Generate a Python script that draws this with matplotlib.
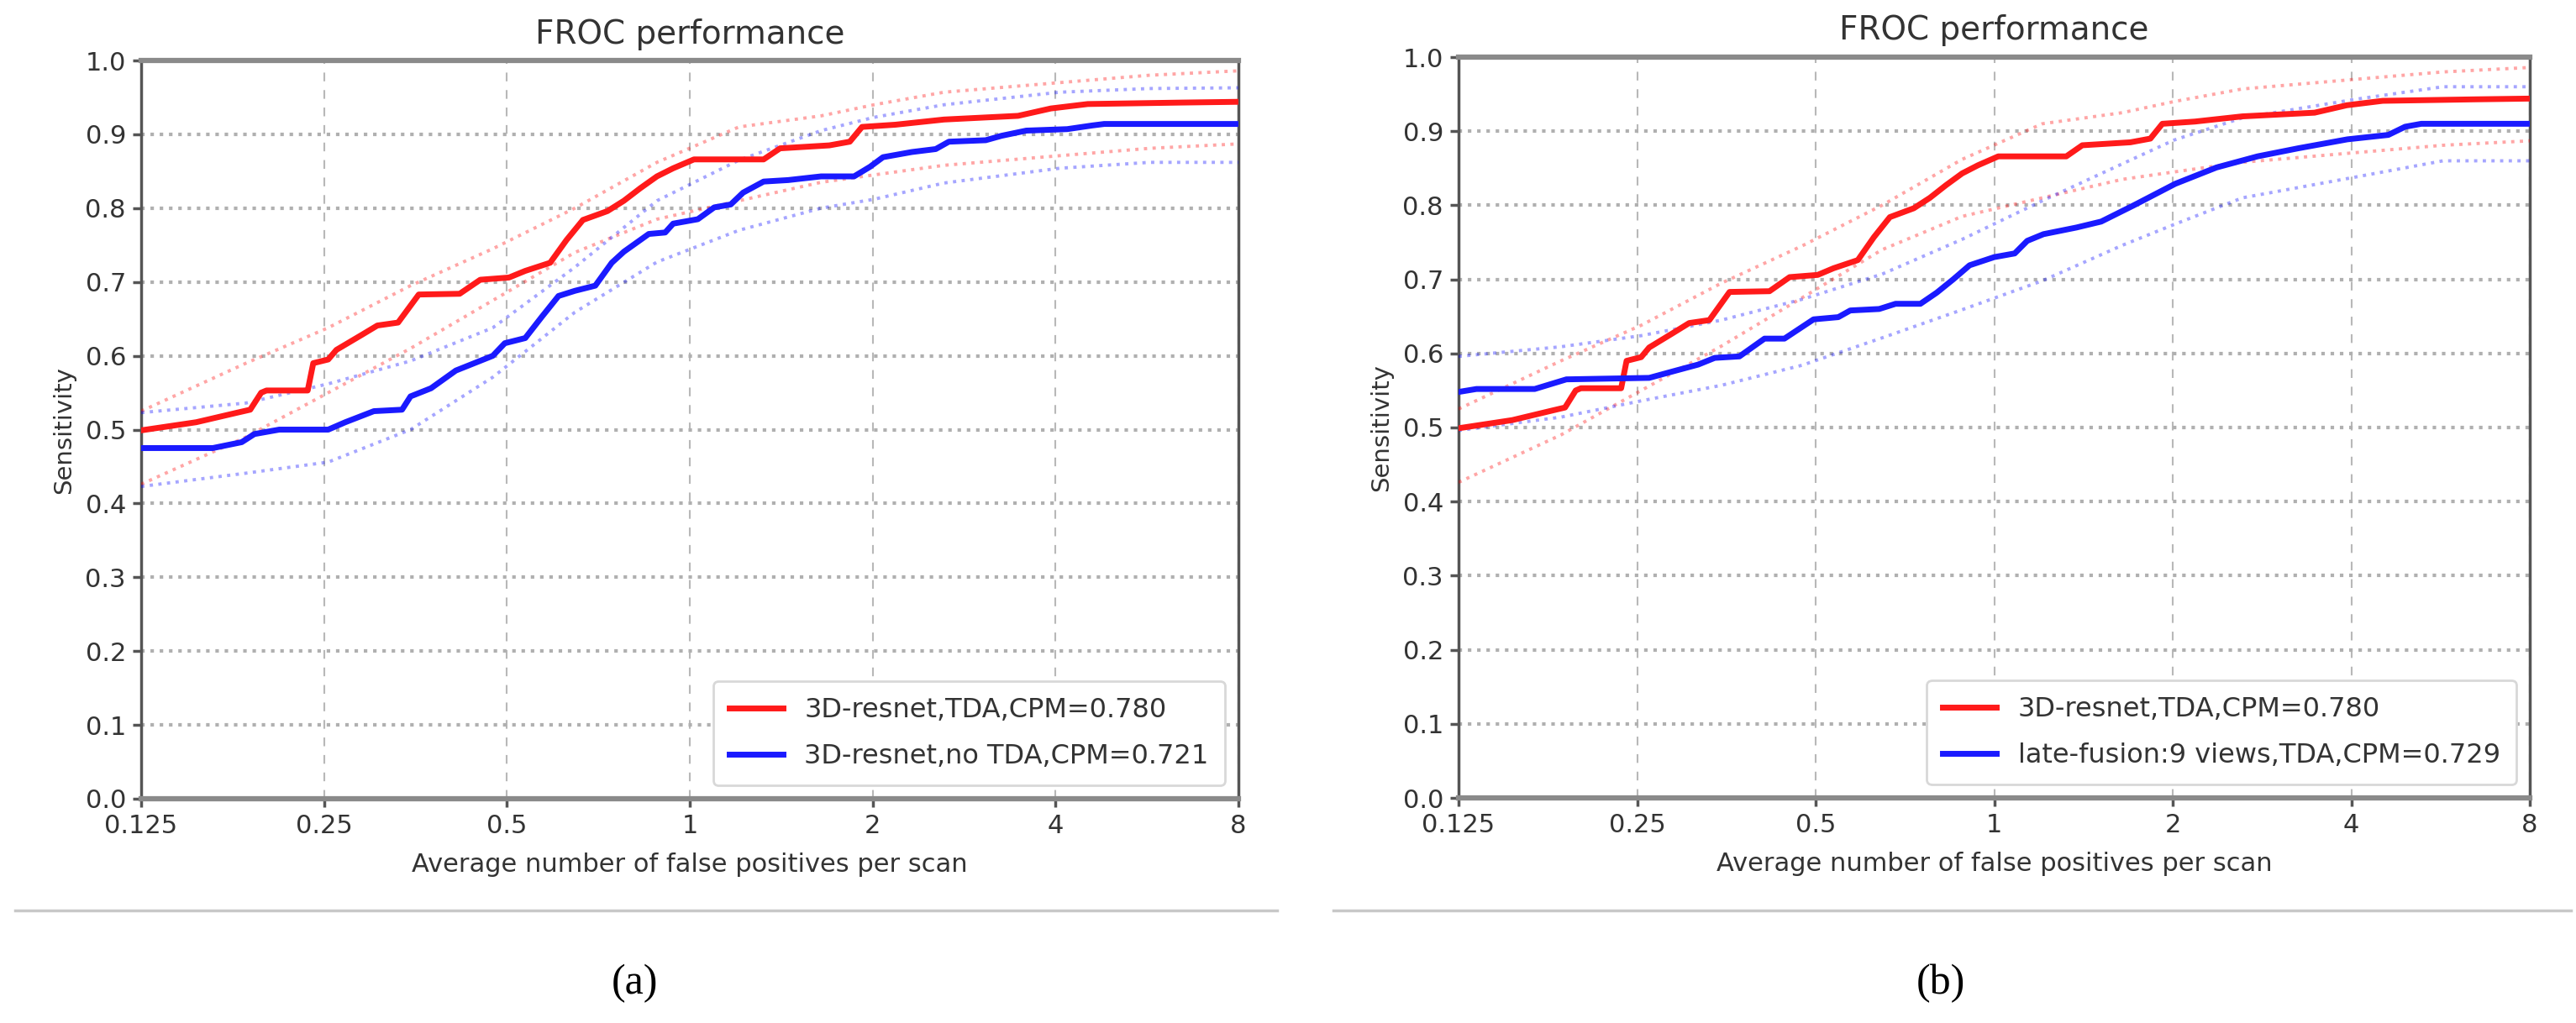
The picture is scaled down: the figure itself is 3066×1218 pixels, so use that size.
import matplotlib
matplotlib.use('Agg')
import matplotlib.pyplot as plt
from matplotlib.lines import Line2D
from matplotlib.ticker import NullLocator

# --- data ---
# 3D-resnet, TDA (same curve in both panels)
red_fps = [0.125, 0.154, 0.180, 0.189, 0.197, 0.201, 0.235, 0.240, 0.254, 0.262,
           0.288, 0.306, 0.331, 0.358, 0.418, 0.452, 0.504, 0.536, 0.589, 0.627,
           0.667, 0.732, 0.779, 0.829, 0.883, 0.939, 1.016, 1.323, 1.408, 1.697,
           1.834, 1.921, 2.18, 2.62, 3.47, 3.93, 4.52, 6.47, 8.0]
red_sens = [0.499, 0.510, 0.523, 0.527, 0.550, 0.553, 0.553, 0.590, 0.595, 0.608,
            0.628, 0.641, 0.645, 0.683, 0.684, 0.703, 0.706, 0.715, 0.726, 0.757,
            0.784, 0.796, 0.810, 0.827, 0.843, 0.854, 0.866, 0.866, 0.881, 0.885,
            0.890, 0.910, 0.913, 0.920, 0.925, 0.935, 0.941, 0.943, 0.944]

# 3D-resnet, no TDA
noTDA_fps = [0.125, 0.164, 0.183, 0.192, 0.211, 0.254, 0.271, 0.302, 0.336, 0.347,
             0.375, 0.412, 0.474, 0.496, 0.536, 0.571, 0.608, 0.647, 0.699, 0.744,
             0.779, 0.856, 0.911, 0.939, 1.031, 1.097, 1.168, 1.224, 1.323, 1.452,
             1.645, 1.864, 1.98, 2.08, 2.32, 2.54, 2.67, 3.07, 3.26, 3.58,
             4.18, 4.60, 4.81, 8.0]
noTDA_sens = [0.475, 0.475, 0.483, 0.494, 0.500, 0.500, 0.510, 0.525, 0.527, 0.545,
              0.556, 0.580, 0.600, 0.617, 0.624, 0.653, 0.681, 0.688, 0.695, 0.726,
              0.741, 0.765, 0.767, 0.779, 0.785, 0.801, 0.805, 0.821, 0.836, 0.838,
              0.843, 0.843, 0.856, 0.869, 0.876, 0.880, 0.890, 0.892, 0.898, 0.905,
              0.907, 0.912, 0.914, 0.914]

# late-fusion: 9 views, TDA
fusion_fps = [0.125, 0.134, 0.168, 0.190, 0.262, 0.288, 0.317, 0.338, 0.372, 0.41,
              0.443, 0.496, 0.546, 0.572, 0.64, 0.682, 0.751, 0.80, 0.853, 0.909,
              1.0, 1.083, 1.137, 1.211, 1.377, 1.515, 1.72, 2.02, 2.37, 2.78,
              3.26, 3.94, 4.62, 4.93, 5.25, 8.0]
fusion_sens = [0.548, 0.552, 0.552, 0.565, 0.567, 0.576, 0.585, 0.594, 0.596, 0.620,
               0.620, 0.646, 0.649, 0.658, 0.660, 0.667, 0.667, 0.682, 0.700, 0.719,
               0.730, 0.735, 0.752, 0.761, 0.770, 0.778, 0.800, 0.829, 0.851, 0.866,
               0.877, 0.889, 0.895, 0.906, 0.910, 0.910]

# bootstrap confidence bounds
ci_fps = [0.125, 0.186, 0.254, 0.347, 0.474, 0.647, 0.883, 1.205, 1.645, 2.01,
          2.62, 4.06, 5.71, 8.0]
red_up = [0.525, 0.590, 0.638, 0.695, 0.745, 0.800, 0.862, 0.910, 0.925, 0.940,
          0.957, 0.970, 0.980, 0.986]
red_lo = [0.426, 0.490, 0.550, 0.610, 0.675, 0.740, 0.785, 0.810, 0.835, 0.845,
          0.858, 0.871, 0.881, 0.887]
noTDA_up = [0.523, 0.536, 0.562, 0.593, 0.638, 0.720, 0.810, 0.865, 0.905, 0.923,
            0.940, 0.957, 0.962, 0.963]
noTDA_lo = [0.423, 0.441, 0.456, 0.500, 0.571, 0.659, 0.727, 0.770, 0.800, 0.812,
            0.834, 0.854, 0.862, 0.862]
fusion_up = [0.596, 0.609, 0.624, 0.645, 0.673, 0.707, 0.754, 0.806, 0.856, 0.888,
             0.918, 0.943, 0.960, 0.960]
fusion_lo = [0.496, 0.514, 0.536, 0.557, 0.584, 0.621, 0.659, 0.698, 0.746, 0.774,
             0.810, 0.838, 0.860, 0.860]

x_ticks = [0.125, 0.25, 0.5, 1, 2, 4, 8]
x_labels = ['0.125', '0.25', '0.5', '1', '2', '4', '8']
y_ticks = [0.0, 0.1, 0.2, 0.3, 0.4, 0.5, 0.6, 0.7, 0.8, 0.9, 1.0]

label_red = '3D-resnet,TDA,CPM=0.780'
label_a = '3D-resnet,no TDA,CPM=0.721'
label_b = 'late-fusion:9 views,TDA,CPM=0.729'

W, H = 3066, 1218
fig = plt.figure(figsize=(W / 100, H / 100), dpi=100)
fig.patch.set_facecolor('white')

txt = '#333333'


def froc(ax, blue_fps, blue_sens, blue_up, blue_lo, blue_label):
    ax.plot(red_fps, red_sens, color='#ff1a1a', lw=5, label=label_red, zorder=4)
    ax.plot(blue_fps, blue_sens, color='#1a1aff', lw=5, label=blue_label, zorder=4)
    ax.plot(ci_fps, red_up, color='red', ls=':', lw=2.8, alpha=0.35, zorder=3)
    ax.plot(ci_fps, red_lo, color='red', ls=':', lw=2.8, alpha=0.35, zorder=3)
    ax.plot(ci_fps, blue_up, color='blue', ls=':', lw=2.8, alpha=0.35, zorder=3)
    ax.plot(ci_fps, blue_lo, color='blue', ls=':', lw=2.8, alpha=0.35, zorder=3)

    ax.set_xscale('log', base=2)
    ax.set_xlim(0.125, 8)
    ax.set_ylim(0, 1)
    ax.set_xticks(x_ticks)
    ax.set_xticklabels(x_labels)
    ax.xaxis.set_minor_locator(NullLocator())
    ax.set_yticks(y_ticks)
    ax.set_yticklabels(['%.1f' % v for v in y_ticks])

    ax.xaxis.grid(True, color='#b8b8b8', ls=(0, (5, 5)), lw=1.5)
    ax.yaxis.grid(True, color='#b0b0b0', ls=':', lw=3)
    ax.set_axisbelow(True)

    ax.tick_params(axis='both', direction='out', length=7, width=2.5,
                   colors='#555555', labelcolor=txt, labelsize=22, pad=6)
    for side in ['left', 'right']:
        ax.spines[side].set_color('#555555')
        ax.spines[side].set_linewidth(2.5)
    for side in ['top', 'bottom']:
        ax.spines[side].set_color('#8a8a8a')
        ax.spines[side].set_linewidth(4.5)

    ax.set_xlabel('Average number of false positives per scan', fontsize=22,
                  color=txt, labelpad=12)
    ax.set_ylabel('Sensitivity', fontsize=21, color=txt, labelpad=8)
    leg = ax.legend(loc='lower right', fontsize=23, handlelength=2.0,
                    labelspacing=0.75, borderpad=0.6, borderaxespad=0.5,
                    framealpha=1.0, fancybox=True)
    leg.get_frame().set_edgecolor('#d8d8d8')
    leg.get_frame().set_linewidth(2)
    for t in leg.get_texts():
        t.set_color(txt)


ax_a = fig.add_axes([168 / W, 1 - 951 / H, (1474 - 168) / W, (951 - 72) / H])
froc(ax_a, noTDA_fps, noTDA_sens, noTDA_up, noTDA_lo, label_a)
ax_b = fig.add_axes([1736 / W, 1 - 950 / H, (3011 - 1736) / W, (950 - 68) / H])
froc(ax_b, fusion_fps, fusion_sens, fusion_up, fusion_lo, label_b)

fig.text((168 + 1474) / 2 / W, 1 - 41 / H, 'FROC performance', fontsize=28,
         color=txt, ha='center', va='center')
fig.text((1736 + 3011) / 2 / W, 1 - 36 / H, 'FROC performance', fontsize=28,
         color=txt, ha='center', va='center')

# separators and sub-captions
fig.add_artist(Line2D([18 / W, 1520 / W], [1 - 1084 / H] * 2, color='#c8c8c8', lw=2.5))
fig.add_artist(Line2D([1587 / W, 3060 / W], [1 - 1084 / H] * 2, color='#c8c8c8', lw=2.5))
fig.text(755 / W, 1 - 1171 / H, '(a)', fontsize=36, family='Liberation Serif',
         ha='center', va='center', color='black')
fig.text(2310 / W, 1 - 1171 / H, '(b)', fontsize=36, family='Liberation Serif',
         ha='center', va='center', color='black')

fig.savefig('out.png', dpi=100, facecolor='white')
